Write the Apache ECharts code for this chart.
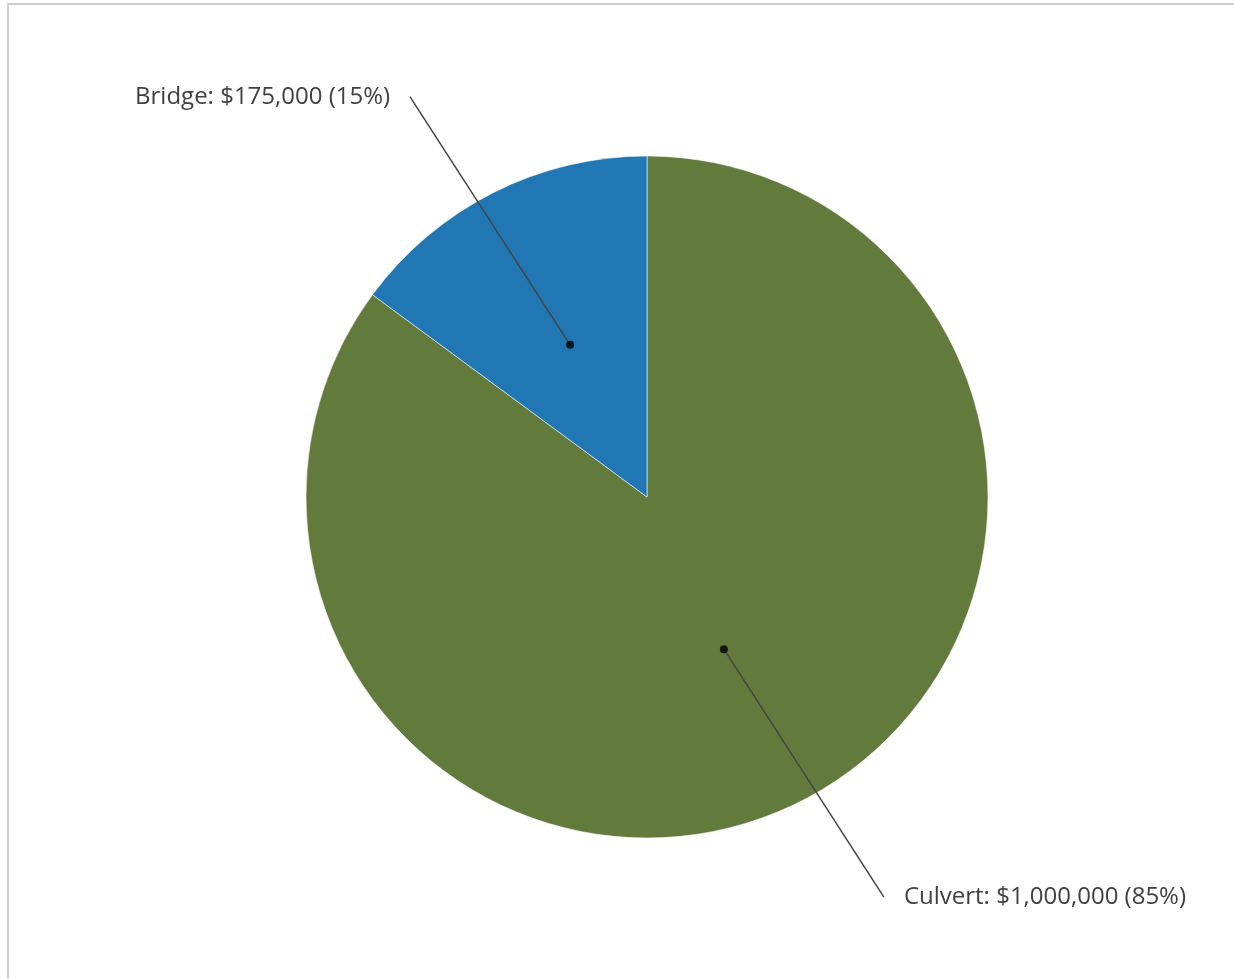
<!DOCTYPE html>
<html>
<head>
<meta charset="utf-8">
<script src="https://cdn.jsdelivr.net/npm/echarts@6/dist/echarts.min.js"></script>
<style>
  html, body { margin: 0; padding: 0; background: #fff; }
  #frame {
    position: absolute; left: 7px; top: 3px; right: 0; bottom: 0;
    border-top: 2px solid #cfcfcf; border-left: 2px solid #cfcfcf;
  }
  #chart { position: absolute; left: 0; top: 0; width: 1234px; height: 979px; }
</style>
</head>
<body>
<div id="frame"></div>
<div id="chart"></div>
<script>
// Project cost breakdown by structure type
const categories = ['Culvert', 'Bridge'];
const costs = [1000000, 175000];
const sliceColors = ['#627a3b', '#2077b4'];

const total = costs.reduce((a, b) => a + b, 0);
const pieCenter = [647, 497];
const pieRadius = 341;

const pieData = categories.map((name, i) => ({
  name: name,
  value: costs[i],
  itemStyle: { color: sliceColors[i] }
}));

// Mid-angle of each slice, expressed in value units for the polar angle axis
let running = 0;
const anchorPoints = costs.map(v => {
  const mid = running + v / 2;
  running += v;
  return [0.5, mid];
});

function money(v) {
  return '$' + v.toLocaleString('en-US');
}

const chart = echarts.init(document.getElementById('chart'), null, { renderer: 'canvas' });

chart.setOption({
  animation: false,
  polar: { center: pieCenter, radius: pieRadius },
  angleAxis: {
    type: 'value', min: 0, max: total, startAngle: 90, clockwise: true,
    show: false, splitLine: { show: false }
  },
  radiusAxis: { type: 'value', min: 0, max: 1, show: false, splitLine: { show: false } },
  series: [
    {
      type: 'pie',
      center: pieCenter,
      radius: [0, pieRadius],
      startAngle: 90,
      clockwise: true,
      silent: true,
      data: pieData,
      label: { show: false },
      labelLine: { show: false },
      itemStyle: { borderColor: 'rgba(255,255,255,0.55)', borderWidth: 1 },
      emphasis: { disabled: true }
    },
    {
      // Leader-line carrier: transparent inner ring whose edge sits at half radius
      type: 'pie',
      center: pieCenter,
      radius: [0, pieRadius / 2],
      startAngle: 90,
      clockwise: true,
      silent: true,
      percentPrecision: 0,
      z: 5,
      data: pieData.map(d => ({ name: d.name, value: d.value })),
      itemStyle: { color: 'rgba(0,0,0,0)' },
      emphasis: { disabled: true },
      label: {
        show: true,
        position: 'outside',
        fontFamily: 'Open Sans',
        fontSize: 24,
        color: '#404040',
        formatter: p => p.name + ': ' + money(p.value) + ' (' + p.percent + '%)'
      },
      labelLine: {
        show: true,
        length: 100,
        length2: 10,
        lineStyle: { color: '#444', width: 1.5 }
      },
      labelLayout: function (params) {
        const pts = params.labelLinePoints;
        if (!pts) return {};
        const s = pts[0];
        const sx = Math.sign(pts[1][0] - pts[0][0]) || 1;
        const sy = Math.sign(pts[1][1] - pts[0][1]) || 1;
        const e = [s[0] + sx * 160, s[1] + sy * 248];
        return {
          x: e[0] + sx * 20,
          y: e[1],
          align: sx < 0 ? 'right' : 'left',
          verticalAlign: 'middle',
          labelLinePoints: [s, e, e]
        };
      }
    },
    {
      type: 'scatter',
      coordinateSystem: 'polar',
      data: anchorPoints,
      symbol: 'circle',
      symbolSize: 8,
      itemStyle: { color: '#000' },
      silent: true,
      z: 10
    }
  ]
});
</script>
</body>
</html>
